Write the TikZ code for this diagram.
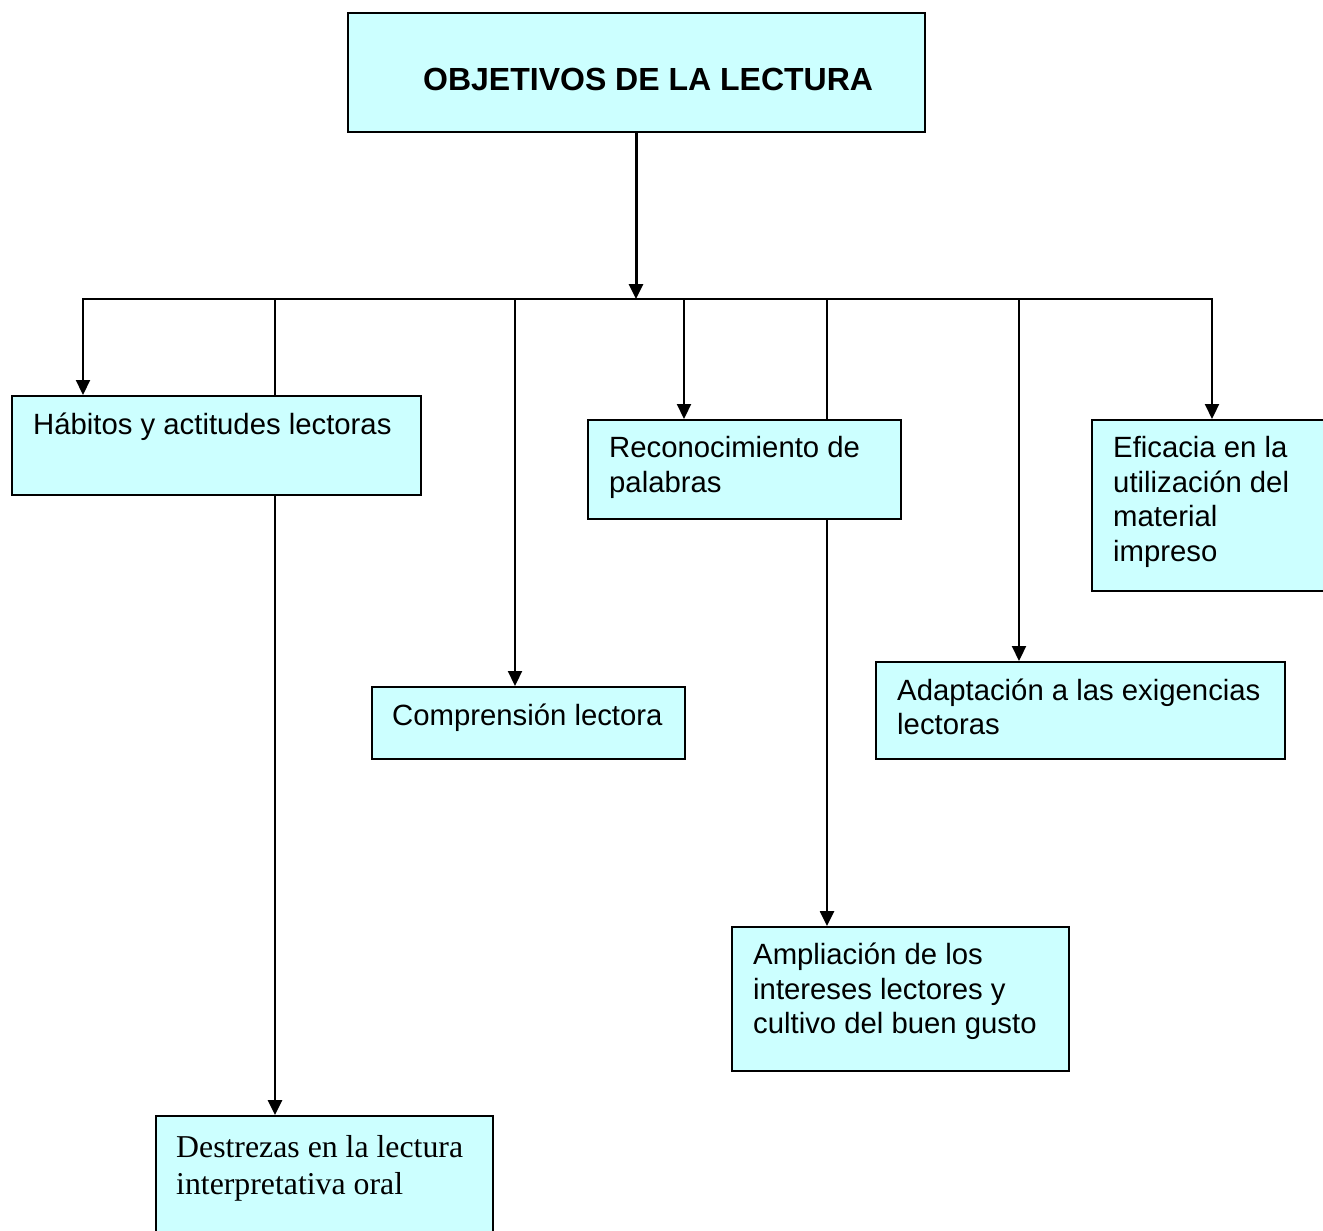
\documentclass[tikz,border=0pt]{standalone}
\usepackage{fontspec}
\setmainfont{Liberation Sans}
\newfontfamily\timesfont{Liberation Serif}
\usetikzlibrary{arrows.meta}
\definecolor{boxfill}{HTML}{CCFFFF}
\tikzset{
  box/.style={draw=black, line width=2pt, fill=boxfill, rectangle, inner sep=0pt, anchor=north west},
  lbl/.style={inner sep=0pt, anchor=base west, font=\fontsize{29.3}{34.5}\selectfont},
  conn/.style={line width=2.2pt, draw=black},
  arr/.style={conn, -{Triangle[width=14pt,length=15pt]}},
}
\newcommand{\lines}[1]{\parbox[t]{400pt}{\raggedright #1}}
\begin{document}
\begin{tikzpicture}[x=1pt,y=-1pt]
\clip (0,0) rectangle (1323,1231);
\fill[white] (0,0) rectangle (1323,1231);
% boxes
\node[box, minimum width=577pt, minimum height=119pt] (top) at (347,12) {};
\node[box, minimum width=409pt, minimum height=99pt] (hab) at (11,395) {};
\node[box, minimum width=313pt, minimum height=99pt] (rec) at (587,419) {};
\node[box, minimum width=250pt, minimum height=171pt] (efi) at (1091,419) {};
\node[box, minimum width=313pt, minimum height=72pt] (com) at (371,686) {};
\node[box, minimum width=409pt, minimum height=97pt] (ada) at (875,661) {};
\node[box, minimum width=337pt, minimum height=144pt] (amp) at (731,926) {};
\node[box, minimum width=337pt, minimum height=140pt] (des) at (155,1115) {};
% texts
\node[inner sep=0pt, anchor=base west, font=\fontsize{32}{38}\selectfont\bfseries] (topt) at (423,91) {OBJETIVOS DE LA LECTURA};
\node[lbl] (habt) at ([shift={(22,39)}]hab.north west) {\lines{Hábitos y actitudes lectoras}};
\node[lbl] (rect) at ([shift={(22,38.5)}]rec.north west) {\lines{Reconocimiento de\\palabras}};
\node[lbl] (efit) at ([shift={(22,38.5)}]efi.north west) {\lines{Eficacia en la\\utilización del\\material\\impreso}};
\node[lbl] (comt) at ([shift={(21,39)}]com.north west) {\lines{Comprensión lectora}};
\node[lbl] (adat) at ([shift={(22,39)}]ada.north west) {\lines{Adaptación a las exigencias\\lectoras}};
\node[lbl] (ampt) at ([shift={(22,38.5)}]amp.north west) {\lines{Ampliación de los\\intereses lectores y\\cultivo del buen gusto}};
\node[inner sep=0pt, anchor=base west, font=\fontsize{31.8}{37}\selectfont\timesfont] (dest) at ([shift={(21,42)}]des.north west) {\lines{Destrezas en la lectura\\interpretativa oral}};
% bar coordinates
\coordinate (bL) at (83,299);
\coordinate (bR) at (1212,299);
\coordinate (b2) at (275,299);
\coordinate (b3) at (515,299);
\coordinate (b4) at (684,299);
\coordinate (b5) at (827,299);
\coordinate (b6) at (1019,299);
\coordinate (mid) at (275,780);
% connectors
\draw[arr, line width=3pt] (top.south -| 636,0) -- (636,299);
\draw[conn, line width=2pt, line join=miter] (bL |- 0,300) -- (bL) -- (bR) -- (bR |- 0,300);
\draw[arr] (bL) -- (bL |- hab.north);
\draw[conn, line width=1.6pt] (b2) -- (b2 |- hab.north);
\draw[conn, line width=1.6pt] (b2 |- hab.south) -- (mid);
\draw[arr, line width=2.6pt] (mid) -- (mid |- des.north);
\draw[arr] (b3) -- (b3 |- com.north);
\draw[arr] (b4) -- (b4 |- rec.north);
\draw[conn, line width=1.8pt] (b5) -- (b5 |- rec.north);
\draw[arr, line width=2.6pt] (b5 |- rec.south) -- (b5 |- amp.north);
\draw[arr] (b6) -- (b6 |- ada.north);
\draw[arr] (bR) -- (bR |- efi.north);
\end{tikzpicture}
\end{document}
